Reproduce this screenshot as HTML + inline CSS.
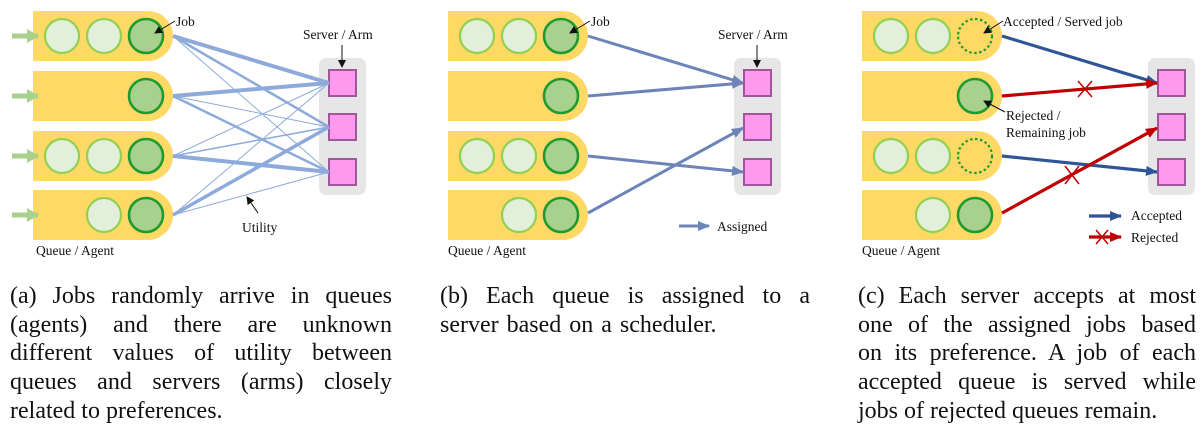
<!DOCTYPE html>
<html><head><meta charset="utf-8"><style>
body{margin:0;width:1203px;height:435px;background:#fff;position:relative;overflow:hidden;font-family:"Liberation Serif",serif}
.cap{position:absolute;top:282px;font-size:24px;line-height:28.7px;text-align:justify;color:#111}
svg{position:absolute;left:0;top:0}
svg text{font-family:"Liberation Serif",serif;font-size:13.5px;fill:#111}
</style></head><body>
<svg width="1203" height="270" viewBox="0 0 1203 270">
<defs>
<marker id="ab" markerWidth="8" markerHeight="8" refX="7" refY="4" orient="auto" markerUnits="userSpaceOnUse"><path d="M0,0 L8,4 L0,8 Z" fill="#111"/></marker>
<marker id="ag" markerWidth="12" markerHeight="14" refX="11" refY="7" orient="auto" markerUnits="userSpaceOnUse"><path d="M0,0 L12,7 L0,14 Z" fill="#a9d18e"/></marker>
<marker id="as" markerWidth="12" markerHeight="10" refX="11" refY="5" orient="auto" markerUnits="userSpaceOnUse"><path d="M0,0 L12,5 L0,10 Z" fill="#6c84b8"/></marker>
<marker id="abl" markerWidth="12" markerHeight="10" refX="11" refY="5" orient="auto" markerUnits="userSpaceOnUse"><path d="M0,0 L12,5 L0,10 Z" fill="#2f5597"/></marker>
<marker id="ar" markerWidth="12" markerHeight="10" refX="11" refY="5" orient="auto" markerUnits="userSpaceOnUse"><path d="M0,0 L12,5 L0,10 Z" fill="#c00000"/></marker>
<g id="q"><path d="M0,0 H115 A25,25 0 0 1 115,50 H0 Z" fill="#ffd966"/></g>
<g id="srv">
<rect x="319" y="58" width="47" height="137" rx="7" fill="#e6e6e6"/>
<rect x="329" y="70" width="27" height="26" fill="#ff99ee" stroke="#a0569a" stroke-width="2"/>
<rect x="329" y="114" width="27" height="26" fill="#ff99ee" stroke="#a0569a" stroke-width="2"/>
<rect x="329" y="159" width="27" height="26" fill="#ff99ee" stroke="#a0569a" stroke-width="2"/>
</g>
</defs>

<!-- Panel A -->
<g>
<use href="#q" x="33" y="11"/><use href="#q" x="33" y="71"/><use href="#q" x="33" y="131"/><use href="#q" x="33" y="190"/>
<g stroke="#a9d18e" stroke-width="5"><line x1="12" y1="36" x2="38" y2="36" marker-end="url(#ag)"/><line x1="12" y1="96" x2="38" y2="96" marker-end="url(#ag)"/><line x1="12" y1="156" x2="38" y2="156" marker-end="url(#ag)"/><line x1="12" y1="215" x2="38" y2="215" marker-end="url(#ag)"/></g>
<g fill="#e2efda" stroke="#92d050" stroke-width="2.2"><circle cx="62" cy="36" r="17"/><circle cx="104" cy="36" r="17"/><circle cx="62" cy="156" r="17"/><circle cx="104" cy="156" r="17"/><circle cx="104" cy="215" r="17"/></g>
<g fill="#a9d18e" stroke="#1e9a2e" stroke-width="2.6"><circle cx="146" cy="36" r="17"/><circle cx="146" cy="96" r="17"/><circle cx="146" cy="156" r="17"/><circle cx="146" cy="215" r="17"/></g>
<use href="#srv"/>
<g stroke="#8eaadb" fill="none">
<line x1="173" y1="36" x2="329" y2="83" stroke-width="4"/><line x1="173" y1="36" x2="329" y2="127" stroke-width="2.5"/><line x1="173" y1="36" x2="329" y2="172" stroke-width="1"/>
<line x1="173" y1="96" x2="329" y2="83" stroke-width="4"/><line x1="173" y1="96" x2="329" y2="127" stroke-width="1"/><line x1="173" y1="96" x2="329" y2="172" stroke-width="2.5"/>
<line x1="173" y1="156" x2="329" y2="83" stroke-width="1"/><line x1="173" y1="156" x2="329" y2="127" stroke-width="1.5"/><line x1="173" y1="156" x2="329" y2="172" stroke-width="4"/>
<line x1="173" y1="215" x2="329" y2="83" stroke-width="1"/><line x1="173" y1="215" x2="329" y2="127" stroke-width="3.5"/><line x1="173" y1="215" x2="329" y2="172" stroke-width="1"/>
</g>
<text x="176" y="26">Job</text><line x1="175" y1="21" x2="155" y2="33" stroke="#111" stroke-width="1" marker-end="url(#ab)"/>
<text x="303" y="39">Server / Arm</text><line x1="342" y1="45" x2="342" y2="67" stroke="#111" stroke-width="1" marker-end="url(#ab)"/>
<text x="242" y="232">Utility</text><line x1="258" y1="213" x2="247" y2="197" stroke="#111" stroke-width="1" marker-end="url(#ab)"/>
<text x="36" y="255">Queue / Agent</text>
</g>

<!-- Panel B -->
<g transform="translate(415,0)">
<use href="#q" x="33" y="11"/><use href="#q" x="33" y="71"/><use href="#q" x="33" y="131"/><use href="#q" x="33" y="190"/>
<g fill="#e2efda" stroke="#92d050" stroke-width="2.2"><circle cx="62" cy="36" r="17"/><circle cx="104" cy="36" r="17"/><circle cx="62" cy="156" r="17"/><circle cx="104" cy="156" r="17"/><circle cx="104" cy="215" r="17"/></g>
<g fill="#a9d18e" stroke="#1e9a2e" stroke-width="2.6"><circle cx="146" cy="36" r="17"/><circle cx="146" cy="96" r="17"/><circle cx="146" cy="156" r="17"/><circle cx="146" cy="215" r="17"/></g>
<use href="#srv"/>
<g stroke="#6c84b8" stroke-width="3">
<line x1="173" y1="36" x2="328" y2="83" marker-end="url(#as)"/>
<line x1="173" y1="96" x2="328" y2="83" marker-end="url(#as)"/>
<line x1="173" y1="156" x2="328" y2="172" marker-end="url(#as)"/>
<line x1="173" y1="213" x2="328" y2="128" marker-end="url(#as)"/>
<line x1="264" y1="226" x2="294" y2="226" marker-end="url(#as)"/>
</g>
<text x="176" y="26">Job</text><line x1="175" y1="21" x2="155" y2="33" stroke="#111" stroke-width="1" marker-end="url(#ab)"/>
<text x="303" y="39">Server / Arm</text><line x1="342" y1="45" x2="342" y2="67" stroke="#111" stroke-width="1" marker-end="url(#ab)"/>
<text x="302" y="231">Assigned</text>
<text x="33" y="255">Queue / Agent</text>
</g>

<!-- Panel C -->
<g transform="translate(829,0)">
<use href="#q" x="33" y="11"/><use href="#q" x="33" y="71"/><use href="#q" x="33" y="131"/><use href="#q" x="33" y="190"/>
<g fill="#e2efda" stroke="#92d050" stroke-width="2.2"><circle cx="62" cy="36" r="17"/><circle cx="104" cy="36" r="17"/><circle cx="62" cy="156" r="17"/><circle cx="104" cy="156" r="17"/><circle cx="104" cy="215" r="17"/></g>
<g fill="none" stroke="#1e9a2e" stroke-width="2.2" stroke-dasharray="2.5 2.5"><circle cx="146" cy="36" r="17"/><circle cx="146" cy="156" r="17"/></g>
<g fill="#a9d18e" stroke="#1e9a2e" stroke-width="2.6"><circle cx="146" cy="96" r="17"/><circle cx="146" cy="215" r="17"/></g>
<use href="#srv"/>
<g stroke-width="3.2">
<line x1="173" y1="36" x2="328" y2="83" stroke="#2f5597" marker-end="url(#abl)"/>
<line x1="173" y1="156" x2="328" y2="172" stroke="#2f5597" marker-end="url(#abl)"/>
<line x1="173" y1="96" x2="328" y2="83" stroke="#c00000" marker-end="url(#ar)"/>
<line x1="173" y1="213" x2="328" y2="128" stroke="#c00000" marker-end="url(#ar)"/>
<line x1="260" y1="216" x2="292" y2="216" stroke="#2f5597" marker-end="url(#abl)"/>
<line x1="260" y1="237" x2="292" y2="237" stroke="#c00000" marker-end="url(#ar)"/>
</g>
<g stroke="#c00000" stroke-width="1.5">
<line x1="249" y1="81" x2="263" y2="97"/><line x1="263" y1="81" x2="249" y2="97"/>
<line x1="236" y1="166" x2="250" y2="184"/><line x1="250" y1="166" x2="236" y2="184"/>
<line x1="267" y1="230" x2="279" y2="244"/><line x1="279" y1="230" x2="267" y2="244"/>
</g>
<text x="174" y="26">Accepted / Served job</text><line x1="174" y1="21" x2="155" y2="33" stroke="#111" stroke-width="1" marker-end="url(#ab)"/>
<text x="177" y="120">Rejected /</text><text x="177" y="137">Remaining job</text>
<line x1="176" y1="112" x2="155" y2="101" stroke="#111" stroke-width="1" marker-end="url(#ab)"/>
<text x="302" y="220">Accepted</text>
<text x="302" y="242">Rejected</text>
<text x="33" y="255">Queue / Agent</text>
</g>
</svg>
<div class="cap" style="left:10px;width:382px">(a) Jobs randomly arrive in queues (agents) and there are unknown different values of utility between queues and servers (arms) closely related to preferences.</div>
<div class="cap" style="left:440px;width:370px;word-spacing:2px">(b) Each queue is assigned to a server based on a scheduler.</div>
<div class="cap" style="left:858px;width:338px">(c) Each server accepts at most one of the assigned jobs based <span style="white-space:nowrap">on its</span> preference. A job of each accepted queue is served while jobs of rejected queues remain.</div>
</body></html>
